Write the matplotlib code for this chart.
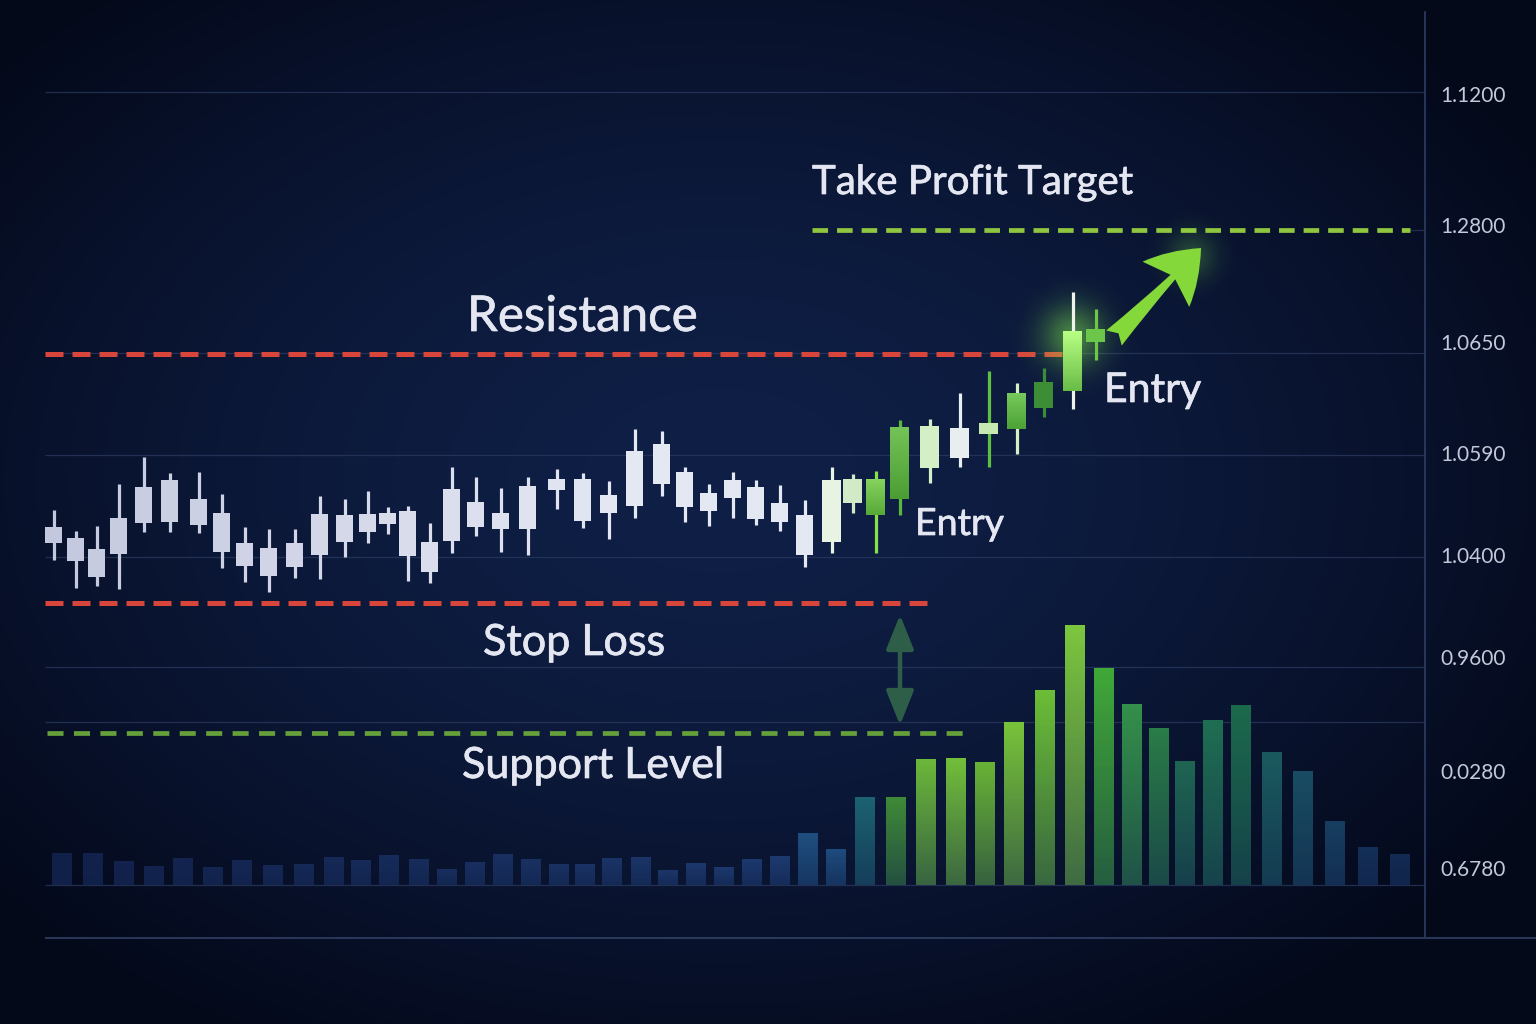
import numpy as np
import matplotlib
matplotlib.use("Agg")
import matplotlib.pyplot as plt
import matplotlib.patheffects as pe
from matplotlib.patches import FancyArrowPatch
from matplotlib.colors import LinearSegmentedColormap, to_rgb

plt.rcParams['font.family'] = ['Lato', 'DejaVu Sans']

# ---- data (chart units: x = time, y = price level) ----
candle_t = [54, 76, 97, 119, 144, 170, 199, 222, 245, 269, 295, 320, 345, 368, 388,
            408, 430, 452, 476, 501, 528, 557, 583, 609, 635, 662, 685, 709, 733, 756,
            780, 805, 832, 853, 876, 900, 930, 960, 989, 1017, 1044, 1073, 1096]
candle_high = [514, 493, 498, 540, 567, 551, 552, 530, 497, 495, 495, 528, 525, 533, 517,
               518, 501, 557, 547, 536, 547, 555, 551, 543, 595, 593, 557, 540, 552, 544,
               539, 524, 557, 550, 553, 604, 605, 631, 653, 641, 656, 732, 715]
candle_low = [464, 436, 438, 435, 492, 492, 491, 456, 442, 432, 446, 445, 467, 481, 490,
              443, 441, 471, 488, 472, 469, 515, 496, 485, 506, 528, 502, 498, 506, 499,
              493, 457, 471, 511, 471, 509, 541, 557, 557, 570, 607, 615, 664]
candle_open = [481, 463, 447, 470, 501, 502, 499, 472, 458, 448, 457, 469, 482, 492, 500,
               468, 452, 483, 497, 495, 495, 534, 503, 511, 518, 540, 517, 513, 526, 505,
               502, 469, 482, 521, 509, 525, 556, 566, 590, 595, 616, 633, 682]
candle_close = [497, 486, 475, 506, 537, 544, 525, 511, 481, 476, 481, 510, 509, 510, 511,
                513, 482, 535, 522, 511, 538, 545, 545, 529, 573, 580, 552, 531, 544, 537,
                521, 509, 544, 545, 545, 597, 598, 596, 601, 631, 642, 693, 695]

vol_t = [62, 93, 124, 154, 183, 213, 242, 273, 304, 334, 361, 389, 419, 447, 475, 503,
         531, 559, 585, 612, 641, 668, 696, 724, 752, 780, 808, 836, 865, 896, 926, 956,
         985, 1014, 1045, 1075, 1104, 1132, 1159, 1185, 1213, 1241, 1272, 1303, 1335,
         1368, 1400]
volume = [31.7, 32.3, 24.3, 19.3, 27.3, 17.7, 24.7, 19.7, 21, 28, 25, 30.3, 25.7, 15.7,
          22.7, 30.7, 26, 21.3, 21, 27, 28, 15, 21.7, 18, 26.3, 29, 51.7, 35.7, 87.7, 88,
          126.3, 126.7, 122.7, 162.7, 195.3, 260.3, 216.7, 181.3, 156.7, 123.7, 165.3,
          180.3, 132.7, 114, 64.3, 38, 30.7]
vol_base = 139

resistance = 670
take_profit = 794
stop_loss = 421
support = 291

axis_labels = ['1.1200', '1.2800', '1.0650', '1.0590', '1.0400', '0.9600', '0.0280', '0.6780']
axis_label_levels = [930, 799, 682, 571, 469, 367, 253, 156]
grid_levels = [932, 671, 569, 467, 357, 302, 139]

# ---- styles ----
TEXT = '#e4e7f1'
RED = '#d8463b'
TP_GREEN = '#90c63f'
SUP_GREEN = '#66a03a'

green_candles = {
    32: ('#e8f3e4', '#e8f3e4'), 33: ('#d2eac6', '#d2eac6'), 34: ('#70cb40', '#86e04a'),
    35: ('#5cb83a', '#5cb83a'), 36: ('#d4eec6', '#d4eec6'), 37: ('#e8eef0', '#e8eef0'),
    38: ('#c6e9b2', '#5cc040'), 39: ('#5fc03e', '#d4f0c4'), 40: ('#3d8d37', '#3d8d37'),
    41: ('#8ae856', '#eef4ea'), 42: ('#6cc64a', '#6cc64a'),
}

vol_top = {26: '#1f4f80', 27: '#1e4b7e', 28: '#1c6272', 29: '#3f8a38', 30: '#6cb83a',
           31: '#72be3a', 32: '#68b236', 33: '#78c23a', 34: '#6cbe36', 35: '#7cc63e',
           36: '#40a838', 37: '#34904a', 38: '#2a7c48', 39: '#1f6552', 40: '#1f6e52',
           41: '#1c6a4c', 42: '#1a5a5e', 43: '#194c62', 44: '#173e60', 45: '#142f58',
           46: '#132a52'}


def mix(c1, c2, t):
    a, b = np.array(to_rgb(c1)), np.array(to_rgb(c2))
    return tuple(a + (b - a) * t)


def gradient_fill(ax, patch, top, bottom, z):
    x0, y0 = patch.get_x(), patch.get_y()
    w, h = patch.get_width(), patch.get_height()
    cmap = LinearSegmentedColormap.from_list('g', [bottom, top])
    im = ax.imshow(np.linspace(0, 1, 64).reshape(-1, 1), cmap=cmap, origin='lower',
                   extent=(x0, x0 + w, y0, y0 + h), aspect='auto', zorder=z)
    im.set_clip_path(patch)


def glow(ax, x, y, r, color, amax, z):
    g = np.linspace(-1, 1, 121)
    X, Y = np.meshgrid(g, g)
    rgba = np.zeros((121, 121, 4))
    rgba[..., :3] = to_rgb(color)
    rgba[..., 3] = amax * np.exp(-(X ** 2 + Y ** 2) * 5.0)
    ax.imshow(rgba, extent=(x - r, x + r, y - r, y + r), origin='lower',
              aspect='auto', zorder=z, interpolation='bilinear')


fig = plt.figure(figsize=(15.36, 10.24), dpi=100)

# background vignette
bg = fig.add_axes([0, 0, 1, 1])
yy, xx = np.mgrid[0:1024, 0:1536]
d = np.sqrt(((xx - 720) / 950.0) ** 2 + ((yy - 480) / 640.0) ** 2)
t = np.clip(d, 0, 1) ** 1.6
c0 = np.array([15, 31, 70]) / 255.0
c1 = np.array([4, 9, 26]) / 255.0
img = c0[None, None, :] + (c1 - c0)[None, None, :] * t[:, :, None]
bg.imshow(img, extent=(0, 1536, 1024, 0), aspect='auto')
bg.set_axis_off()

# main axes
W = 1425
ax = fig.add_axes([0, 0, W / 1536, 1])
ax.patch.set_alpha(0)
for s in ['top', 'left', 'bottom']:
    ax.spines[s].set_visible(False)
ax.spines['right'].set_color('#2e3d64')
ax.spines['right'].set_linewidth(1.2)
ax.spines['right'].set_bounds(87, 1012)
ax.xaxis.set_visible(False)
ax.yaxis.tick_right()
ax.set_yticks(axis_label_levels, axis_labels)
ax.tick_params(axis='y', length=0, pad=11, labelsize=15, labelcolor='#c3c8da')

# grid lines
for g in grid_levels:
    ax.hlines(g, 45, W, color='#2b3a60', lw=0.9, alpha=0.75, zorder=1)
ax.hlines(take_profit, 1410, W, color='#2b3a60', lw=0.9, alpha=0.75, zorder=1)
ax.hlines(86, 45, 1536, color='#34446a', lw=1.1, zorder=1, clip_on=False)

# volume bars
bars = ax.bar(vol_t, volume, bottom=vol_base, width=20, color='none', zorder=2)
for i, b in enumerate(bars):
    top = vol_top.get(i, mix('#12204a', '#1d3a70', i / 25.0))
    gradient_fill(ax, b, top, mix(top, '#0f2147', 0.55), 2)

# level lines
ax.hlines(resistance, 45, 1065, color=RED, lw=3.6, linestyles=(0, (3.6, 1.8)), zorder=4)
ax.hlines(stop_loss, 45, 930, color=RED, lw=3.6, linestyles=(0, (3.6, 1.8)), zorder=4)
ax.hlines(take_profit, 812, 1410, color=TP_GREEN, lw=3.4, linestyles=(0, (3.3, 1.9)), zorder=4)
ax.hlines(support, 47, 965, color=SUP_GREEN, lw=3.4, linestyles=(0, (3.4, 2.2)), zorder=4)

# glow around breakout candle and arrow head
glow(ax, candle_t[41], 688, 70, '#8cff50', 0.45, 4.5)
glow(ax, 1192, 768, 55, '#8cff50', 0.22, 4.5)

# candles
for i in range(len(candle_t)):
    grey = mix('#c4c8de', '#e4e8f3', min(i / 24.0, 1.0))
    body, wick = green_candles.get(i, (grey, grey))
    w = 17 if i < 32 else 19
    ax.vlines(candle_t[i], candle_low[i], candle_high[i], color=wick, lw=2.3, zorder=5)
    lo, hi = min(candle_open[i], candle_close[i]), max(candle_open[i], candle_close[i])
    rect = ax.bar(candle_t[i], hi - lo, bottom=lo, width=w, color=body, zorder=6)[0]
    if i in (34, 35, 39, 41):
        top = '#b8ff84' if i == 41 else mix(body, '#ffffff', 0.15)
        gradient_fill(ax, rect, top, mix(body, '#2a6a2a', 0.35), 6.5)

# arrows
ax.add_patch(FancyArrowPatch((900, 412), (900, 296), arrowstyle='<|-|>,head_length=1.5,head_width=0.6',
                             mutation_scale=14, lw=3.2, color='#2e5e48', zorder=4))
ax.add_patch(FancyArrowPatch((1112, 684), (1203, 778),
                             arrowstyle='fancy,head_length=1.4,head_width=1.8,tail_width=0.6',
                             connectionstyle='arc3,rad=0.0', mutation_scale=26,
                             lw=0, color='#84d83a', zorder=7))

# labels
thick = [pe.withStroke(linewidth=0.5, foreground=TEXT)]
ax.text(812, 830, 'Take Profit Target', fontsize=29, color=TEXT, ha='left', va='baseline',
        zorder=8, path_effects=thick)
ax.text(467, 693, 'Resistance', fontsize=35.5, color=TEXT, ha='left', va='baseline',
        zorder=8, path_effects=thick)
ax.text(483, 369, 'Stop Loss', fontsize=31, color=TEXT, ha='left', va='baseline',
        zorder=8, path_effects=thick)
ax.text(462, 246, 'Support Level', fontsize=31, color=TEXT, ha='left', va='baseline',
        zorder=8, path_effects=thick)
ax.text(915, 489, 'Entry', fontsize=27, color=TEXT, ha='left', va='baseline',
        zorder=8, path_effects=thick)
ax.text(1104, 622, 'Entry', fontsize=29.5, color=TEXT, ha='left', va='baseline',
        zorder=8, path_effects=thick)

ax.set_xlim(0, W)
ax.set_ylim(0, 1024)

fig.savefig('out.png', dpi=100)
